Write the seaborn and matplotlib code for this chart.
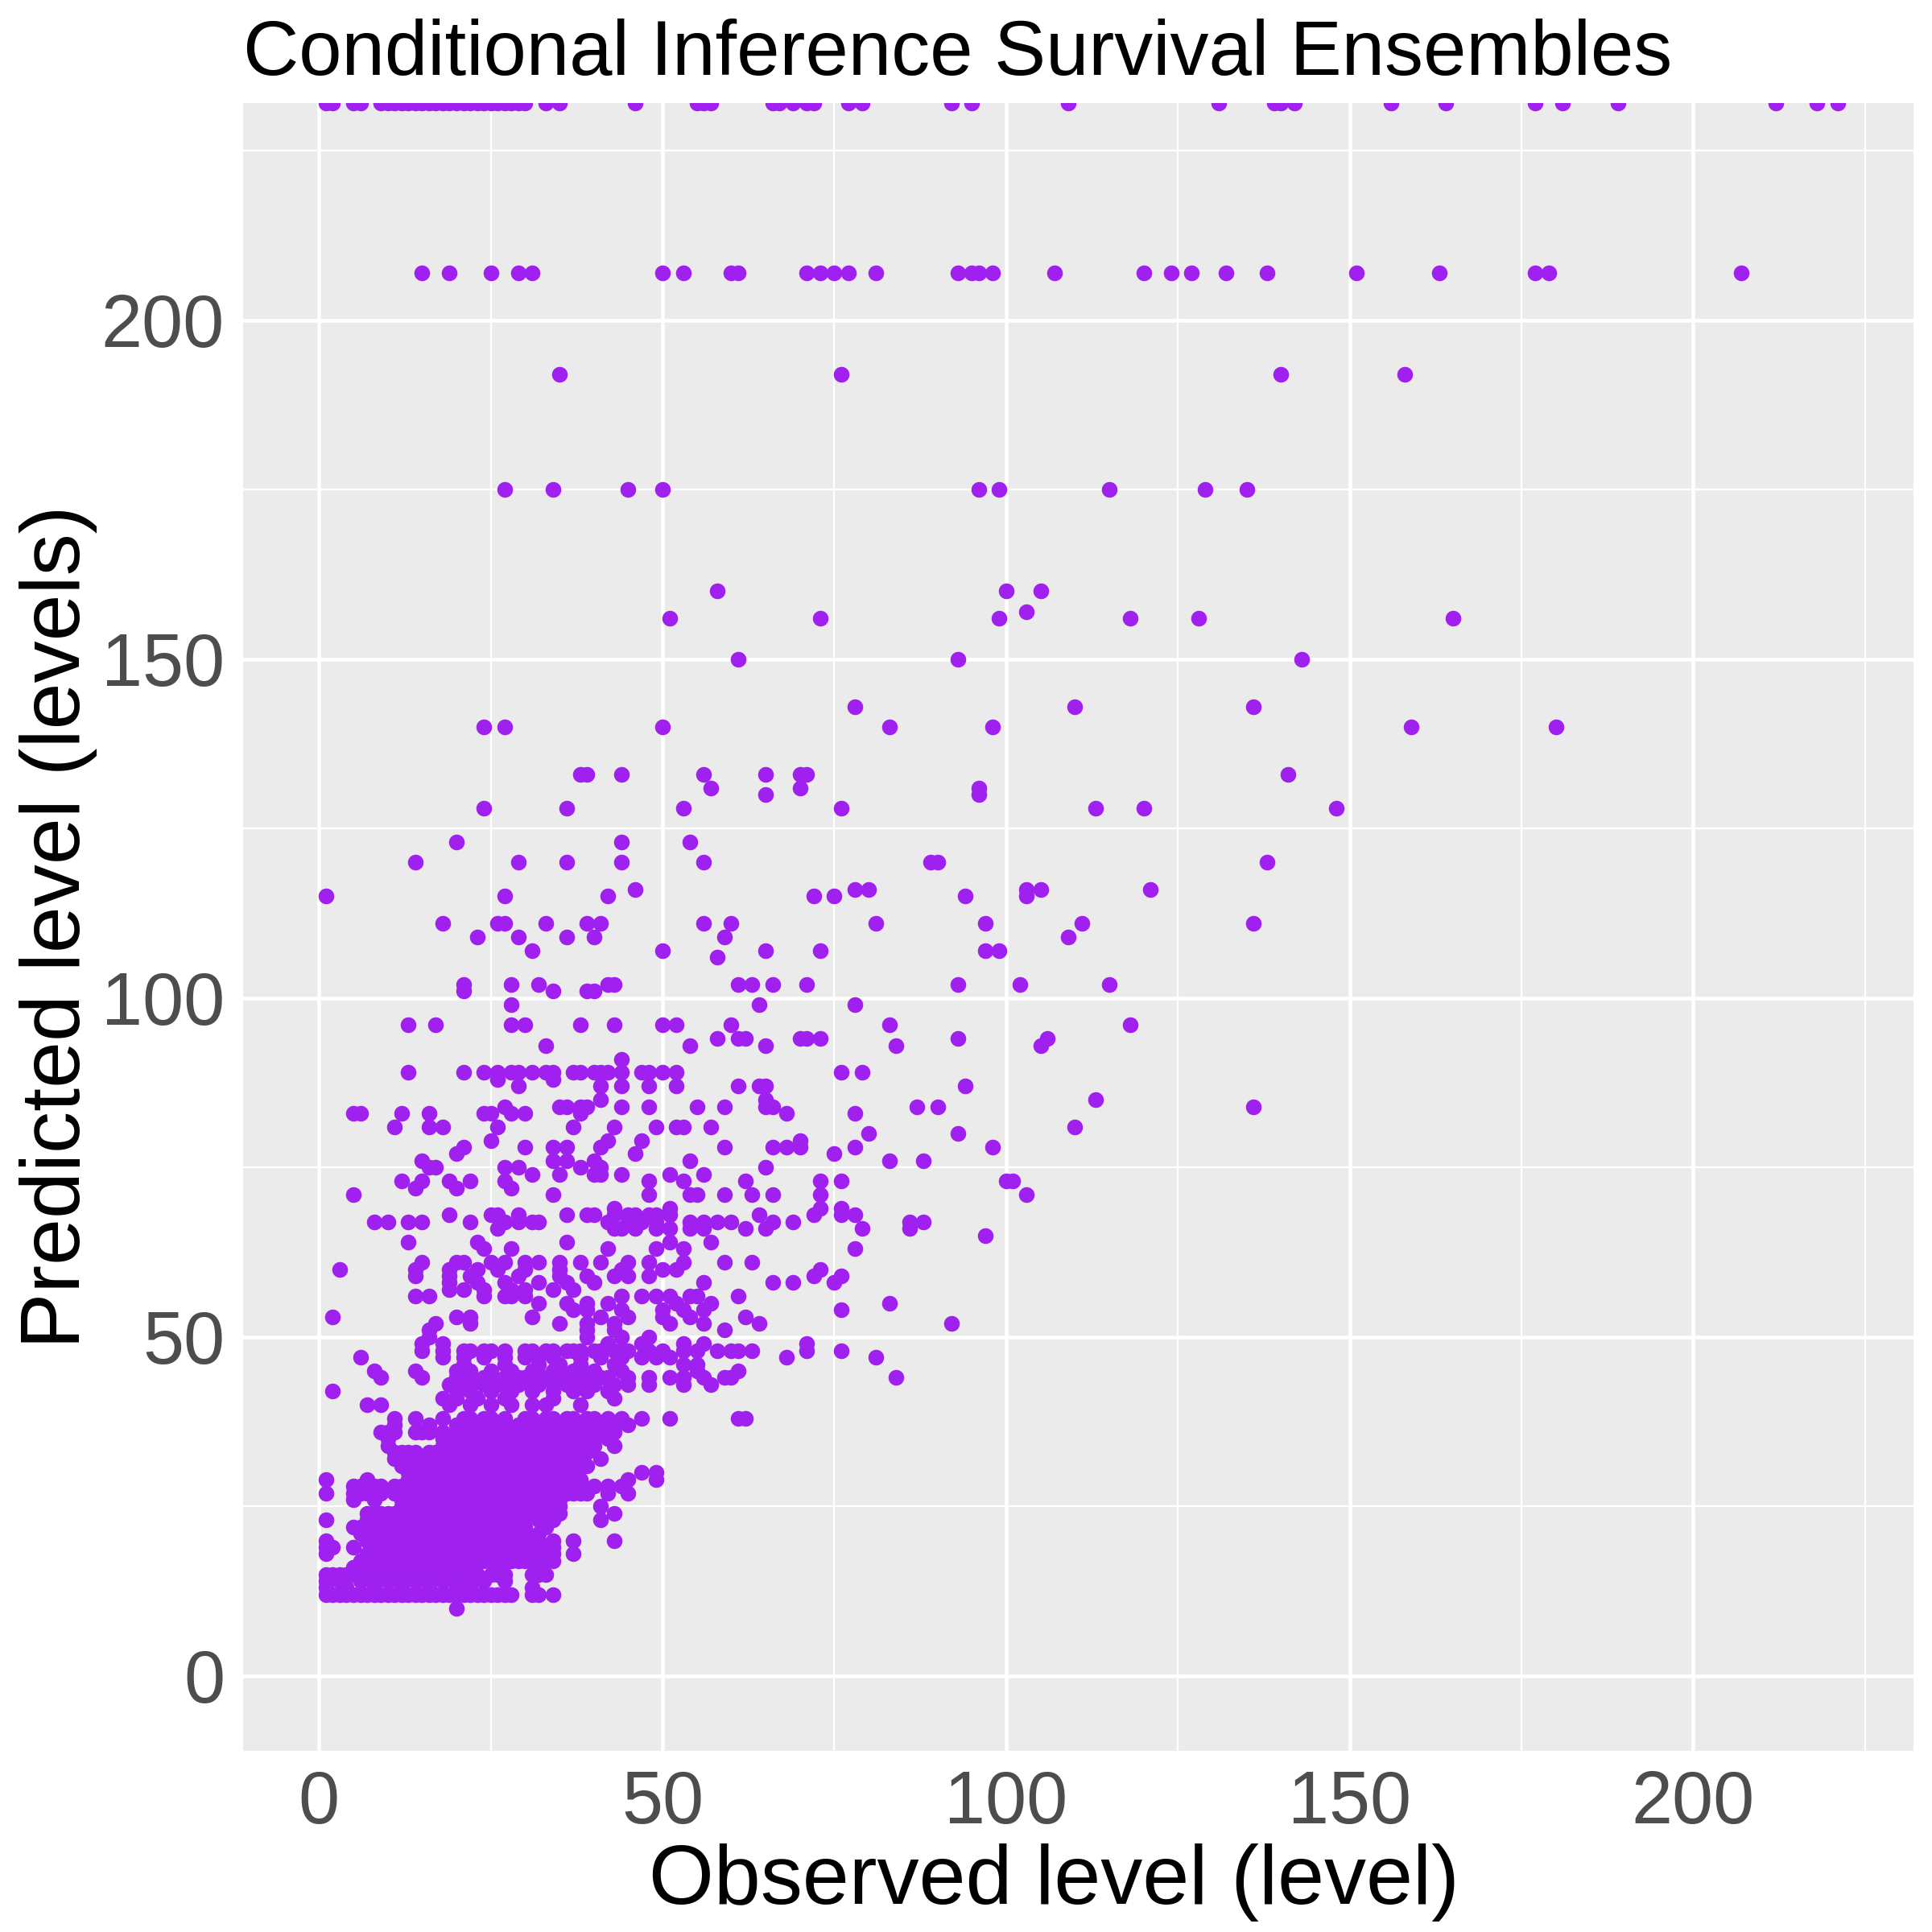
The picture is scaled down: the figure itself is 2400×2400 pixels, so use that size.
import matplotlib
matplotlib.use('Agg')
import matplotlib.pyplot as plt
from matplotlib.ticker import MultipleLocator
import seaborn as sns
import pandas as pd

# %%
# predicted level rows, each with the observed levels that land on it
hi_pred = [232, 207, 192, 175, 160, 157, 156, 150, 143, 140, 133, 131, 130,
           128, 123, 120, 116, 115, 111, 109, 107, 106, 102, 101]
hi_obs = [
    [1, 2, 5, 6, 9, 10, 11, 12, 13, 14, 15, 16, 17, 18, 19, 20, 21, 22, 23,
     24, 25, 26, 27, 28, 29, 30, 33, 35, 46, 55, 56, 57, 66, 67, 69, 71, 72,
     77, 79, 92, 95, 109, 131, 139, 140, 142, 156, 164, 177, 181, 189, 212,
     218, 221],
    [15, 19, 25, 29, 31, 50, 53, 60, 61, 71, 73, 75, 77, 81, 93, 95, 96, 98,
     107, 120, 124, 127, 132, 138, 151, 163, 177, 179, 207],
    [35, 76, 140, 158],
    [27, 34, 45, 50, 96, 99, 115, 129, 135],
    [58, 100, 105],
    [103],
    [51, 73, 99, 118, 128, 165],
    [61, 93, 143],
    [78, 110, 136],
    [24, 27, 50, 83, 98, 159, 180],
    [38, 39, 44, 56, 65, 70, 71, 141],
    [57, 70, 96],
    [65, 96],
    [24, 36, 53, 76, 113, 120, 148],
    [20, 44, 54],
    [14, 29, 36, 44, 56, 89, 90, 138],
    [46, 78, 80, 103, 105, 121],
    [1, 27, 42, 72, 75, 94, 103],
    [18, 26, 27, 33, 39, 41, 56, 60, 81, 97, 111, 136],
    [23, 29, 36, 40, 59, 109],
    [31, 50, 65, 73, 97, 99],
    [58],
    [21, 28, 32, 42, 43, 61, 63, 66, 71, 93, 102, 115],
    [21, 34, 39, 40],
]

mid_pred = [99, 96, 94, 93, 91, 89, 88, 87, 85, 84, 83, 81, 80, 79, 78, 77,
            76, 75, 74, 73, 72, 71, 69, 68, 67, 66, 65, 64, 63, 61, 60, 59,
            58, 57, 56, 55, 54, 53, 52, 51, 50, 49, 48, 47, 46, 45, 44, 43,
            42, 41, 40]
mid_obs = [
    [28, 64, 78],
    [13, 17, 28, 30, 38, 43, 50, 52, 60, 83, 118],
    [58, 61, 62, 70, 71, 73, 93, 106],
    [33, 54, 65, 84, 105],
    [44],
    [13, 21, 24, 26, 28, 29, 31, 33, 34, 37, 38, 40, 41, 42, 44, 47, 48, 50,
     52, 76, 79],
    [26, 34],
    [29, 41, 44, 48, 52, 61, 64, 65, 94],
    [41, 65, 113],
    [27, 35, 36, 38, 39, 44, 48, 55, 59, 65, 66, 87, 90, 136],
    [5, 6, 12, 16, 24, 25, 28, 30, 38, 68, 78],
    [11, 16, 18, 26, 37, 43, 49, 52, 53, 57, 110],
    [80, 93],
    [25, 42, 47, 70],
    [21, 30, 34, 36, 41, 59, 66, 68, 70, 78, 98],
    [20, 46, 75],
    [15, 34, 36, 40, 54, 83, 88],
    [16, 17, 27, 29, 38, 41, 65],
    [31, 35, 40, 41, 44, 51, 56],
    [12, 15, 19, 22, 27, 48, 53, 62, 73, 76, 100, 101],
    [14, 20, 28],
    [5, 34, 48, 54, 55, 59, 63, 66, 73, 103],
    [43, 51, 73, 76],
    [19, 25, 26, 29, 36, 39, 40, 43, 45, 46, 48, 49, 51, 64, 72, 76, 78],
    [8, 10, 13, 15, 22, 27, 29, 31, 32, 42, 45, 47, 49, 54, 56, 58, 60, 66,
     69, 86, 88],
    [26, 43, 44, 46, 49, 51, 54, 56, 62, 65, 79, 86],
    [97],
    [13, 23, 36, 51, 57],
    [24, 28, 42, 49, 53, 78],
    [15, 20, 21, 25, 27, 30, 32, 35, 38, 41, 45, 48, 53, 59, 63],
    [3, 14, 19, 23, 26, 30, 35, 44, 50, 52, 73],
    [14, 19, 22, 29, 35, 39, 43, 45, 48, 72, 76],
    [19, 23, 27, 32, 36, 40, 56, 66, 69, 75],
    [19, 21, 24, 28, 30, 34, 37],
    [14, 16, 24, 27, 28, 30, 44, 47, 49, 51, 54, 55, 61],
    [32, 36, 39, 42, 52, 57, 83],
    [37, 39, 44, 50, 53, 56, 76],
    [2, 20, 22, 31, 41, 45, 50, 54, 62],
    [17, 22, 35, 39, 43, 51, 56, 64, 92],
    [16, 39, 43, 59],
    [16, 39, 44, 48],
    [15, 18, 42, 47, 53, 56, 71],
    [15, 18, 21, 22, 24, 25, 27, 30, 31, 33, 34, 36, 37, 38, 40, 41, 43, 44,
     45, 48, 50, 53, 55, 58, 60, 61, 63, 71, 76],
    [6, 18, 21, 24, 27, 30, 32, 34, 38, 41, 44, 47, 49, 51, 68, 81],
    [21, 27, 32, 35, 38, 43, 53, 55],
    [8, 14, 20, 22, 25, 28, 31, 34, 37, 40, 44, 55, 61],
    [9, 15, 20, 22, 24, 25, 27, 29, 30, 32, 33, 35, 36, 38, 39, 41, 42, 45,
     48, 51, 53, 56, 59, 60, 84],
    [19, 20, 22, 24, 26, 27, 29, 31, 32, 34, 36, 37, 39, 40, 43, 45, 48, 53,
     57],
    [2, 20, 22, 25, 28, 31, 34, 37, 39, 42],
    [18, 20, 23, 27, 34, 43],
    [7, 9, 19, 22, 25, 28, 31, 33, 38],
]

low_pred = [38, 37, 36, 35, 34, 33, 32, 31, 30, 29, 28, 27, 26, 25, 24, 23,
            22, 21, 20, 19, 18, 17, 16, 15, 14, 13, 12, 10]
low_obs = [
    [11, 14, 18, 21, 22, 24, 25, 27, 30, 31, 33, 34, 36, 37, 39, 40, 42, 44,
     47, 51, 61, 62],
    [11, 16, 20, 21, 23, 24, 26, 27, 29, 30, 32, 33, 35, 36, 38, 39, 41, 42,
     43, 45],
    [9, 10, 11, 14, 15, 16, 18, 20, 21, 22, 23, 24, 25, 26, 28, 30, 31, 32,
     33, 34, 35, 36, 37, 38, 39, 40, 42, 43],
    [10, 18, 19, 20, 21, 22, 23, 24, 25, 26, 27, 28, 29, 30, 31, 32, 33, 34,
     35, 36, 37, 38, 40, 42],
    [10, 18, 19, 20, 21, 22, 23, 24, 25, 26, 27, 28, 29, 30, 31, 32, 33, 34,
     35, 36, 38, 39, 40, 43],
    [11, 12, 13, 14, 16, 17, 18, 19, 20, 21, 22, 23, 24, 25, 26, 27, 28, 29,
     30, 31, 32, 33, 34, 35, 36, 37, 38, 39],
    [11, 12, 13, 14, 15, 16, 17, 18, 19, 20, 21, 22, 23, 24, 25, 26, 27, 28,
     29, 30, 31, 32, 33, 34, 35, 36, 37, 38, 41],
    [12, 13, 15, 16, 17, 18, 19, 20, 21, 22, 23, 24, 25, 26, 27, 28, 29, 30,
     31, 32, 33, 34, 35, 36, 37, 38, 39],
    [13, 14, 15, 16, 17, 18, 19, 20, 21, 22, 23, 24, 25, 26, 27, 28, 29, 30,
     31, 32, 33, 34, 35, 36, 37, 47, 49],
    [1, 7, 13, 15, 16, 17, 18, 19, 20, 21, 22, 23, 24, 25, 26, 27, 28, 29,
     30, 31, 32, 33, 34, 35, 36, 38, 45, 49],
    [5, 6, 7, 8, 9, 11, 12, 13, 14, 15, 16, 17, 18, 19, 20, 21, 22, 23, 24,
     25, 26, 27, 28, 29, 30, 31, 32, 33, 34, 35, 36, 37, 38, 40, 42, 44],
    [1, 5, 6, 7, 8, 9, 11, 12, 13, 14, 15, 16, 17, 18, 19, 20, 21, 22, 23,
     24, 25, 26, 27, 28, 29, 30, 31, 32, 33, 34, 35, 36, 37, 38, 39, 42, 45],
    [5, 8, 12, 13, 14, 15, 16, 17, 18, 19, 20, 21, 22, 23, 24, 25, 26, 27,
     28, 29, 30, 31, 32, 33, 34, 35],
    [12, 13, 14, 15, 16, 17, 18, 19, 20, 21, 22, 23, 24, 25, 26, 27, 28, 29,
     30, 31, 32, 33, 34, 35, 41],
    [7, 8, 9, 10, 11, 12, 13, 14, 15, 16, 17, 18, 19, 20, 21, 22, 23, 24, 25,
     26, 27, 28, 29, 30, 32, 33, 34, 35, 43],
    [1, 7, 8, 9, 10, 11, 12, 13, 14, 15, 16, 17, 18, 19, 20, 21, 22, 23, 24,
     25, 26, 27, 28, 29, 30, 32, 33, 34, 41],
    [5, 6, 7, 8, 9, 10, 11, 12, 13, 14, 15, 16, 17, 18, 19, 20, 21, 22, 23,
     24, 25, 26, 27, 28, 29, 30, 33],
    [6, 7, 8, 9, 10, 11, 12, 13, 14, 15, 16, 17, 18, 19, 20, 21, 22, 23, 24,
     25, 26, 27, 28, 29, 30, 32],
    [1, 7, 8, 9, 10, 11, 12, 13, 14, 15, 16, 17, 18, 19, 20, 21, 22, 23, 24,
     25, 26, 27, 28, 29, 30, 32, 34, 37, 43],
    [1, 2, 5, 8, 9, 10, 11, 12, 13, 14, 15, 16, 17, 18, 19, 20, 21, 22, 23,
     24, 25, 26, 27, 28, 30, 31, 32, 33, 34],
    [1, 7, 8, 9, 10, 11, 12, 13, 14, 15, 16, 17, 18, 19, 20, 21, 22, 23, 24,
     25, 26, 27, 28, 30, 32, 34, 37],
    [6, 7, 8, 9, 10, 11, 12, 13, 14, 15, 16, 17, 18, 19, 20, 21, 22, 23, 24,
     25, 26, 27, 28, 29, 30, 31, 32, 33, 34],
    [5, 6, 7, 8, 9, 10, 11, 12, 13, 14, 15, 16, 17, 18],
    [1, 2, 3, 4, 5, 6, 7, 8, 9, 10, 11, 12, 13, 14, 15, 16, 17, 18, 19, 20,
     21, 22, 23, 25, 26, 27, 31, 32, 33],
    [1, 3, 6, 10, 14, 18, 21, 24, 27],
    [1, 4, 8, 12, 16, 20, 22, 31],
    [1, 2, 3, 4, 5, 6, 7, 8, 9, 10, 11, 12, 13, 14, 15, 16, 17, 18, 19, 20,
     21, 22, 23, 24, 25, 26, 27, 28, 31, 32, 34],
    [20],
]

ticks = [0, 50, 100, 150, 200]

# %%
rows = []
for preds, obss in [(hi_pred, hi_obs), (mid_pred, mid_obs),
                    (low_pred, low_obs)]:
    for p, os_ in zip(preds, obss):
        rows += [(o, p) for o in os_]
df = pd.DataFrame(rows, columns=['observed', 'predicted'])

# %%
sns.set_theme(style='darkgrid', rc={
    'axes.facecolor': '#EBEBEB',
    'grid.color': 'white',
    'axes.edgecolor': '#EBEBEB',
})
plt.rcParams['font.family'] = ['Liberation Sans', 'DejaVu Sans']

fig = plt.figure(figsize=(8, 8), dpi=300)
ax = fig.add_axes([0.12583, 0.09375, 0.86458, 0.85304])

sns.scatterplot(data=df, x='observed', y='predicted', color='#A020F0',
                s=22, linewidth=0, ax=ax, zorder=3)

ax.set_xlim(-11.05, 232.05)
ax.set_ylim(-11.05, 232.05)
ax.set_xticks(ticks)
ax.set_yticks(ticks)
ax.xaxis.set_minor_locator(MultipleLocator(25))
ax.yaxis.set_minor_locator(MultipleLocator(25))
ax.grid(which='major', color='white', linewidth=1.1)
ax.grid(which='minor', color='white', linewidth=0.55)
for s in ax.spines.values():
    s.set_visible(False)

ax.tick_params(which='major', length=2.9, width=1.1, color='#333333',
               labelsize=22, labelcolor='#4D4D4D', pad=2.6)
ax.tick_params(which='minor', length=0)

ax.set_xlabel('Observed level (level)', fontsize=25, color='black',
              va='baseline')
ax.xaxis.set_label_coords(0.4857, -0.0928)
ax.set_ylabel('Predicted level (levels)', fontsize=25, color='black',
              va='baseline')
ax.yaxis.set_label_coords(-0.0978, 0.5)

fig.text(0.12583, 0.96125, 'Conditional Inference Survival Ensembles',
         fontsize=23, color='black', ha='left', va='baseline')

fig.savefig('out.png', dpi=300)
